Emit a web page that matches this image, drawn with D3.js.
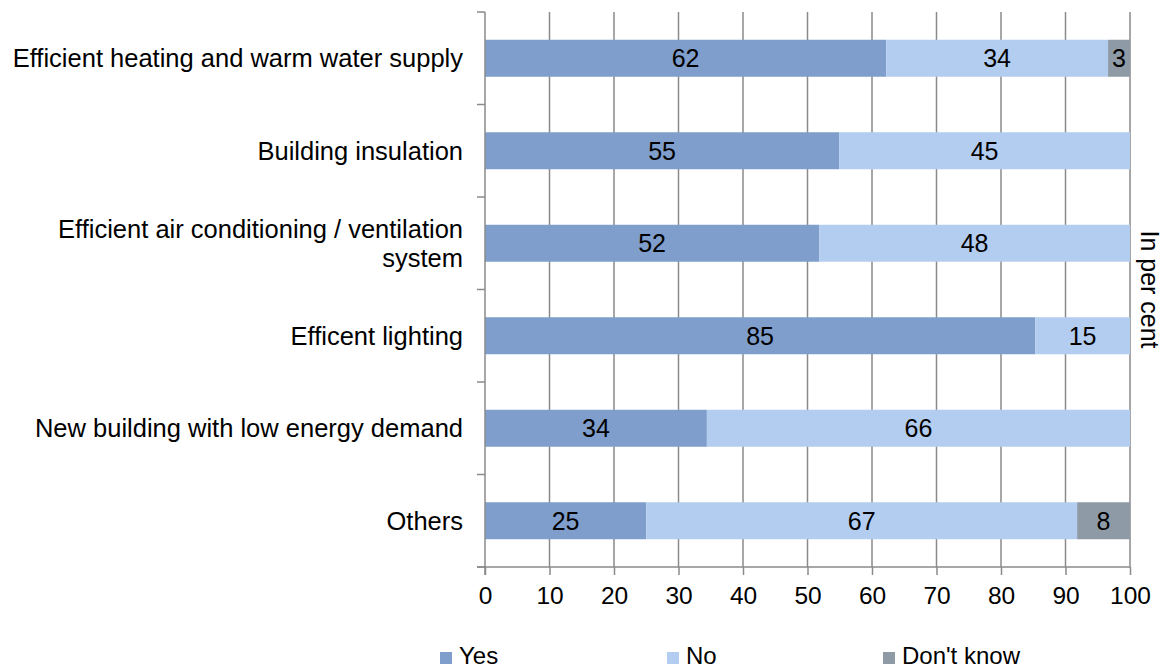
<!DOCTYPE html>
<html><head><meta charset="utf-8">
<script src="https://cdn.jsdelivr.net/npm/d3@7"></script>
<style>
html,body{margin:0;padding:0;background:#fff;}
text{font-family:"Liberation Sans",Arial,sans-serif;fill:#000;}
</style></head>
<body>
<svg id="chart" width="1176" height="670"></svg>
<script>
const categories = [
  ["Efficient heating and warm water supply"],
  ["Building insulation"],
  ["Efficient air conditioning / ventilation", "system"],
  ["Efficent lighting"],
  ["New building with low energy demand"],
  ["Others"]
];
const seriesNames = ["Yes", "No", "Don't know"];
const yesValues = [62.2, 54.9, 51.8, 85.3, 34.4, 25.0];
const noValues = [34.4, 45.1, 48.2, 14.7, 65.6, 66.8];
const dkValues = [3.4, 0, 0, 0, 0, 8.2];
const xTicks = [0, 10, 20, 30, 40, 50, 60, 70, 80, 90, 100];
const axisTitle = "In per cent";
const colors = ["#7f9ecb", "#b3cdf0", "#8e9ba6"];

const svg = d3.select("#chart");
const L = 485, R = 1130, T = 12, B = 567;
const FS = 25;

const keys = categories.map((c, i) => "c" + i);
const x = d3.scaleLinear().domain([0, 100]).range([L, R]);
const y = d3.scaleBand().domain(keys).range([T, B]).paddingInner(0.6).paddingOuter(0.3);

const rows = keys.map((k, i) => ({key: k, Yes: yesValues[i], No: noValues[i], "Don't know": dkValues[i]}));
const stack = d3.stack().keys(seriesNames)(rows);

// vertical gridlines
svg.append("g").selectAll("line").data(xTicks.slice(1)).join("line")
  .attr("x1", d => x(d)).attr("x2", d => x(d))
  .attr("y1", T).attr("y2", B)
  .attr("stroke", "#8a8a8a").attr("stroke-width", 1.5);

// bars
const gS = svg.append("g").selectAll("g").data(stack).join("g")
  .attr("fill", (d, i) => colors[i]);
gS.selectAll("rect").data(d => d.filter(p => p[1] - p[0] > 0)).join("rect")
  .attr("x", p => x(p[0])).attr("width", p => x(p[1]) - x(p[0]))
  .attr("y", p => y(p.data.key)).attr("height", y.bandwidth());

// bar labels
stack.forEach(s => {
  svg.append("g").selectAll("text").data(s.filter(p => p[1] - p[0] > 0)).join("text")
    .attr("x", p => (x(p[0]) + x(p[1])) / 2)
    .attr("y", p => y(p.data.key) + y.bandwidth() / 2)
    .attr("dy", "0.35em")
    .attr("text-anchor", "middle")
    .style("font-size", FS + "px")
    .text(p => d3.format(".0f")(p[1] - p[0]));
});

// x axis
const xAxis = svg.append("g").attr("transform", `translate(0,${B})`)
  .call(d3.axisBottom(x).tickValues(xTicks).tickSize(8).tickPadding(12).tickFormat(d3.format("d")));
xAxis.select(".domain").remove();
xAxis.selectAll(".tick line").attr("stroke", "#8a8a8a").attr("stroke-width", 1.5);
xAxis.selectAll(".tick text").style("font-size", "24.5px").attr("font-family", null);
svg.append("line").attr("x1", L - 8).attr("x2", R).attr("y1", B).attr("y2", B)
  .attr("stroke", "#8a8a8a").attr("stroke-width", 1.5);

// y axis line & category ticks
svg.append("line").attr("x1", L).attr("x2", L).attr("y1", T).attr("y2", B + 8)
  .attr("stroke", "#8a8a8a").attr("stroke-width", 1.5);
const step = y.step();
const bounds = d3.range(keys.length + 1).map(i => T + i * step);
svg.append("g").selectAll("line").data(bounds).join("line")
  .attr("x1", L - 8).attr("x2", L).attr("y1", d => d).attr("y2", d => d)
  .attr("stroke", "#8a8a8a").attr("stroke-width", 1.5);

// category labels
const lineH = 29;
svg.append("g").selectAll("text").data(categories).join("text")
  .attr("text-anchor", "end")
  .style("font-size", "25.5px")
  .each(function(lines, i) {
    const cy = y(keys[i]) + y.bandwidth() / 2;
    const t = d3.select(this);
    lines.forEach((ln, j) => {
      t.append("tspan").attr("x", L - 22)
        .attr("y", cy + (j - (lines.length - 1) / 2) * lineH)
        .attr("dy", "0.35em").text(ln);
    });
  });

// axis title (right, rotated)
svg.append("text")
  .attr("transform", `translate(1141,${(T + B) / 2}) rotate(90)`)
  .attr("text-anchor", "middle")
  .style("font-size", "25px")
  .text(axisTitle);

// legend
const legX = [440, 667, 883];
const lg = svg.append("g").selectAll("g").data(seriesNames).join("g")
  .attr("transform", (d, i) => `translate(${legX[i]},652)`);
lg.append("rect").attr("width", 12).attr("height", 12).attr("fill", (d, i) => colors[i]);
lg.append("text").attr("x", 19).attr("y", 12).style("font-size", "24px").text(d => d);
</script>
</body></html>
